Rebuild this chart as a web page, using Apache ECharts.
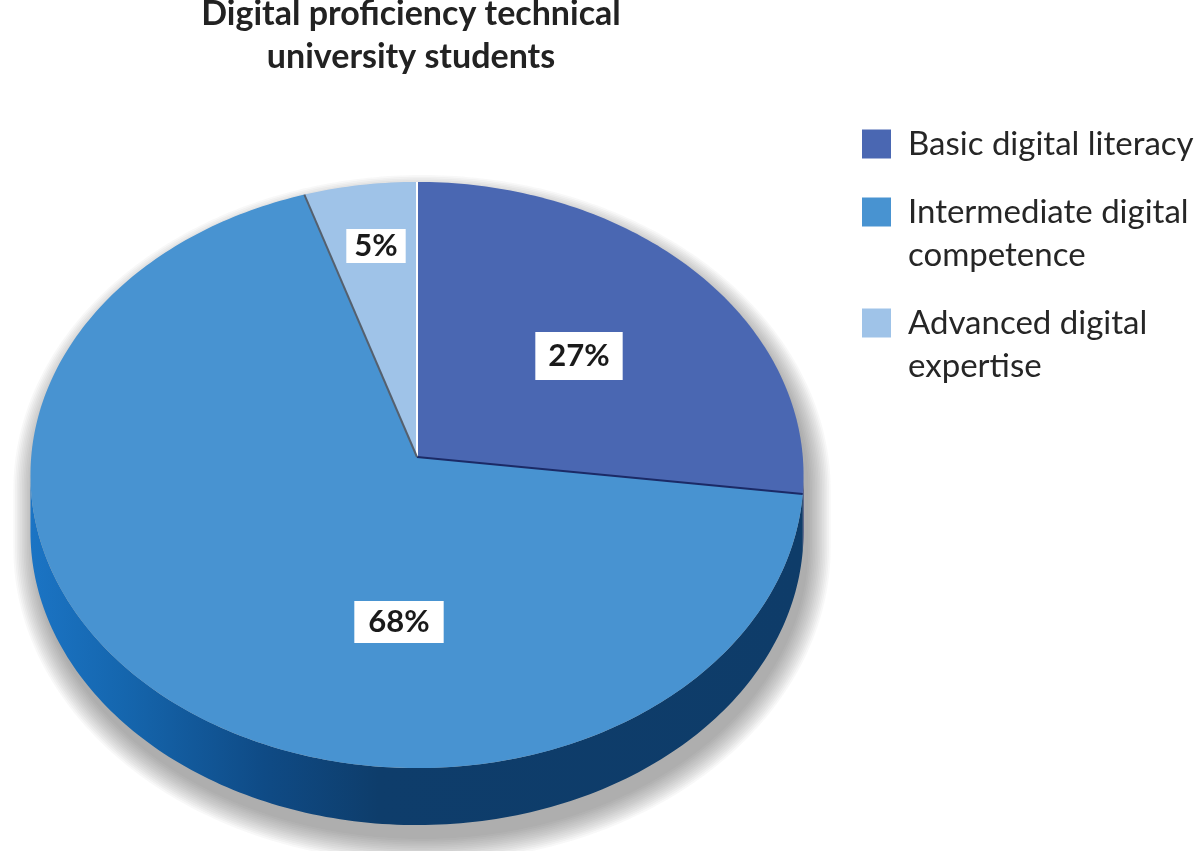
<!DOCTYPE html>
<html>
<head>
<meta charset="utf-8">
<title>Digital proficiency</title>
<script src="https://cdn.jsdelivr.net/npm/echarts@6/dist/echarts.min.js"></script>
<style>
  html, body { margin: 0; padding: 0; background: #fff; }
  #chart { width: 1200px; height: 851px; }
</style>
</head>
<body>
<div id="chart"></div>
<script>
// data
var categories = ['Basic digital literacy', 'Intermediate digital competence', 'Advanced digital expertise'];
var shares = [27, 68, 5];
var shareLabels = ['27%', '68%', '5%'];
var legendLines = [['Basic digital literacy'], ['Intermediate digital', 'competence'], ['Advanced digital', 'expertise']];
var titleText = 'Digital proficiency technical\nuniversity students';

// look
var topColors = ['#4a67b2', '#4893d1', '#9fc3e8'];
var sideColors = ['#1e2c6c', null, '#6f8fb4'];   // null -> shaded gradient
var edgeColors = ['#ffffff', '#1b2a66', '#55606e']; // line at the start of each slice
var labelSpots = [[579, 356], [399, 622], [376, 246]];
var labelPads = [[8, 13], [5, 14], [1, 8]];
// projected disc: centre, radii, perspective strength, thickness
var pie = { cx: 417, cy: 457, rx: 385.8, ry: 292, k: 0.0614, depth: 57 };

var total = shares.reduce(function (a, b) { return a + b; }, 0);
var starts = [];
var acc = 0;
shares.forEach(function (v) { starts.push(acc / total * 360); acc += v; });

// silhouette limits of the rim (where the projected x is extreme)
var rimFrom = Math.acos(-pie.k) * 180 / Math.PI;   // ~93.5
var rimTo = 360 - rimFrom;                          // ~266.5

function rim(deg, dy, grow) {
  var r = deg * Math.PI / 180;
  var s = 1 / (1 + pie.k * Math.cos(r));
  var g = grow || 0;
  return [pie.cx + (pie.rx + g) * Math.sin(r) * s,
          pie.cy - (pie.ry + g) * Math.cos(r) * s + (dy || 0)];
}
function arc(a0, a1, dy, grow) {
  var pts = [];
  var n = Math.max(2, Math.ceil(Math.abs(a1 - a0)));
  for (var k = 0; k <= n; k++) pts.push(rim(a0 + (a1 - a0) * k / n, dy, grow));
  return pts;
}

var sideGradient = {
  type: 'linear', x: pie.cx - pie.rx, y: 0, x2: pie.cx + pie.rx, y2: 0, global: true,
  colorStops: [
    { offset: 0, color: '#1b74c4' },
    { offset: 0.12, color: '#1566ae' },
    { offset: 0.3, color: '#0f4b86' },
    { offset: 0.45, color: '#0e3d6b' },
    { offset: 1, color: '#0e3c69' }
  ]
};

// soft drop shadow under the disc, built as stacked translucent outlines
var shadowEls = [];
for (var j = 0; j < 14; j++) {
  var grow = j * 1.7;
  var outline = arc(rimTo - 360, rimFrom, 0, grow).concat(arc(rimFrom, rimTo, pie.depth, grow));
  shadowEls.push({
    type: 'polygon', z: 0, silent: true,
    x: 5, y: 14,
    shape: { points: outline },
    style: { fill: 'rgba(60,55,55,0.036)' }
  });
}

function renderSlice(params, api) {
  var i = params.dataIndex;
  var a0 = starts[i];
  var a1 = a0 + api.value(0) / total * 360;
  var children = [];

  // visible rim (front part only)
  var s = Math.max(a0, rimFrom), e = Math.min(a1, rimTo);
  if (s < e) {
    var pts = arc(s, e, 0).concat(arc(e, s, pie.depth));
    children.push({
      type: 'polygon', z2: 1,
      shape: { points: pts },
      style: { fill: sideColors[i] || sideGradient }
    });
  }

  // top face
  children.push({
    type: 'polygon', z2: 10,
    shape: { points: [[pie.cx, pie.cy]].concat(arc(a0, a1, 0)) },
    style: { fill: topColors[i] }
  });

  // dividing edge at the start of the slice
  var p = rim(a0, 0);
  children.push({
    type: 'line', z2: 12,
    shape: { x1: pie.cx, y1: pie.cy, x2: p[0], y2: p[1] },
    style: { stroke: edgeColors[i], lineWidth: 2 }
  });

  // value label
  children.push({
    type: 'text', z2: 20,
    style: {
      text: shareLabels[i],
      x: labelSpots[i][0], y: labelSpots[i][1],
      align: 'center', verticalAlign: 'middle',
      fontFamily: 'Lato', fontWeight: 'bold', fontSize: 31, lineHeight: 32,
      fill: '#1a1a1a', backgroundColor: '#ffffff', padding: labelPads[i]
    }
  });

  return { type: 'group', children: children };
}

// legend drawn to keep the first line beside each swatch
var legendEls = [];
var lineY = 144;
categories.forEach(function (name, i) {
  legendEls.push({
    type: 'rect',
    shape: { x: 862, y: lineY - 14.5, width: 29, height: 29 },
    style: { fill: topColors[i] }
  });
  legendEls.push({
    type: 'text',
    style: {
      text: legendLines[i].join('\n'),
      x: 908, y: lineY - 21.5,
      verticalAlign: 'top',
      fontFamily: 'Lato', fontSize: 33, lineHeight: 43,
      fill: '#262626'
    }
  });
  lineY += legendLines[i].length * 43 + 25;
});

var chart = echarts.init(document.getElementById('chart'));
chart.setOption({
  animation: false,
  title: {
    text: titleText,
    left: 411, top: -7, padding: 0,
    textAlign: 'center',
    textStyle: { fontFamily: 'Lato', fontWeight: 'bold', fontSize: 34, lineHeight: 43, color: '#222' }
  },
  graphic: shadowEls.concat(legendEls),
  series: [{
    type: 'custom',
    coordinateSystem: 'none',
    z: 5,
    renderItem: renderSlice,
    data: shares.map(function (v, i) { return { name: categories[i], value: v }; })
  }]
});
</script>
</body>
</html>
